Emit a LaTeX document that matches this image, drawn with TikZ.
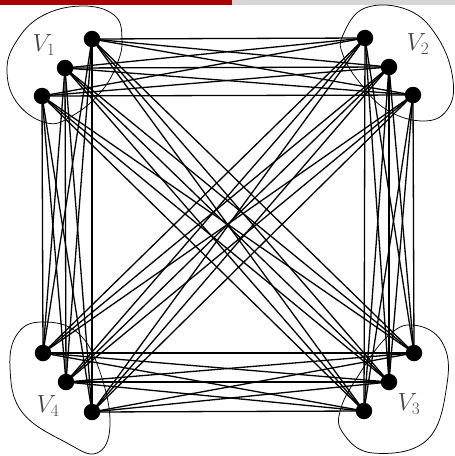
\documentclass[tikz,border=0pt]{standalone}
\usetikzlibrary{calc}
\definecolor{barred}{RGB}{168,0,0}
\definecolor{bargray}{RGB}{214,214,214}
\begin{document}
\begin{tikzpicture}[x=1pt,y=-1pt,
  vtx/.style={circle,fill=black,inner sep=0pt,minimum size=16.5pt},
  edge/.style={line width=1.3pt,black},
  blob/.style={line width=0.75pt,black},
  lab/.style={text=black!72,font=\fontsize{23}{27}\selectfont,inner sep=0pt}]
\useasboundingbox (0,0) rectangle (455,456);
\fill[barred] (0,0) rectangle (232,4.7);
\fill[bargray] (232,0) rectangle (455,4.7);
% vertices
\coordinate (a1) at (92,39);
\coordinate (a2) at (65,68);
\coordinate (a3) at (42,96);
\coordinate (b1) at (365,38);
\coordinate (b2) at (389,67);
\coordinate (b3) at (413,95);
\coordinate (c1) at (364,411);
\coordinate (c2) at (389,382);
\coordinate (c3) at (414,353);
\coordinate (d1) at (92,412);
\coordinate (d2) at (66,382);
\coordinate (d3) at (43,353);
% edges: complete 4-partite
\foreach \g/\h in {a/b,a/c,a/d,b/c,b/d,c/d}{
  \foreach \i in {1,2,3}{
    \foreach \j in {1,2,3}{
      \draw[edge] (\g\i) -- (\h\j);
    }
  }
}
\foreach \p in {a1,a2,a3,b1,b2,b3,c1,c2,c3,d1,d2,d3}{
  \node[vtx] (n\p) at (\p) {};
}
% blobs
\draw[blob] plot[smooth cycle,tension=0.7] coordinates {(47,123) (18,104) (7,72) (16,42) (42,16) (82,6) (114,15) (122,38) (117,64) (100,93) (72,116)};
\draw[blob] plot[smooth cycle,tension=0.7] coordinates {(343,35) (365,8) (408,10) (438,38) (453,80) (447,110) (423,121) (387,110) (360,83) (343,55)};
\draw[blob] plot[smooth cycle,tension=0.7] coordinates {(43,322) (78,333) (100,372) (110,425) (97,453) (67,443) (22,412) (10,367) (18,333)};
\draw[blob] plot[smooth cycle,tension=0.7] coordinates {(413,325) (442,342) (447,384) (427,440) (373,453) (343,433) (341,408) (360,373) (387,337)};
% labels
\node[lab] (l1) at (44,45) {$V_1$};
\node[lab] (l2) at (418,44) {$V_2$};
\node[lab] (l3) at (409,404) {$V_3$};
\node[lab] (l4) at (48,406) {$V_4$};
\end{tikzpicture}
\end{document}
